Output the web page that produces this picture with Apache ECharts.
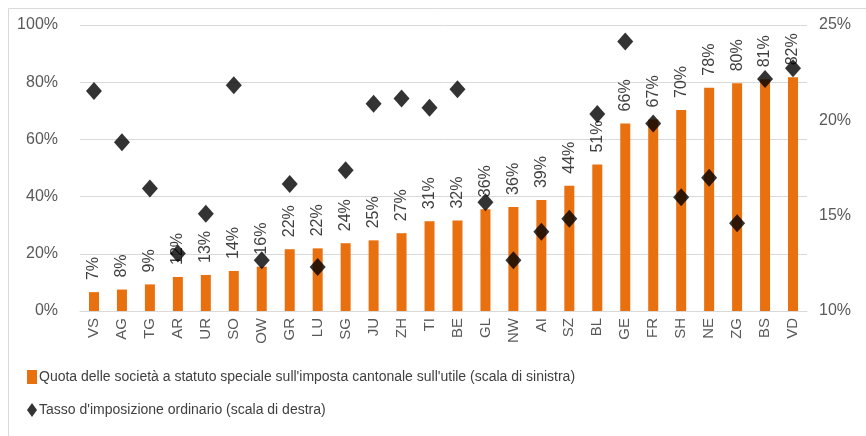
<!DOCTYPE html>
<html lang="it">
  <head>
    <meta charset="UTF-8" />
    <title>Statuti speciali</title>
    <script src="https://cdn.jsdelivr.net/npm/echarts@6/dist/echarts.min.js"></script>
  </head>
  <body style="margin: 0">
    <div id="main" style="width: 866px; height: 436px"></div>

    <script>
      const cantons = ["VS", "AG", "TG", "AR", "UR", "SO", "OW", "GR", "LU", "SG", "JU", "ZH", "TI",
        "BE", "GL", "NW", "AI", "SZ", "BL", "GE", "FR", "SH", "NE", "ZG", "BS", "VD"];
      // quota delle società a statuto speciale (scala di sinistra, %)
      const quotaSpeciale = [6.6, 7.5, 9.3, 11.9, 12.6, 14.0, 15.5, 21.6, 21.9, 23.7, 24.7, 27.2, 31.4,
        31.6, 35.6, 36.4, 38.8, 43.8, 51.2, 65.6, 67.0, 70.3, 78.1, 79.6, 81.0, 81.7];
      // tasso d'imposizione ordinario (scala di destra, %)
      const tassoOrdinario = [21.54, 18.85, 16.42, 13.02, 15.1, 21.84, 12.66, 16.66, 12.31, 17.38, 20.87, 21.14, 20.66,
        21.63, 15.7, 12.66, 14.16, 14.84, 20.33, 24.14, 19.84, 15.96, 16.99, 14.6, 22.17, 22.73];

      const font = "'Liberation Sans', sans-serif";
      const chart = echarts.init(document.getElementById("main"));

      chart.setOption({
        textStyle: { fontFamily: font },
        graphic: [
          {
            type: "rect",
            shape: { x: 8.5, y: 8.5, width: 880, height: 440 },
            style: { fill: "none", stroke: "#d9d9d9", lineWidth: 1 },
          },
        ],
        grid: { left: 80, right: 59, top: 25, bottom: 125 },
        legend: {
          orient: "vertical",
          left: 22,
          top: 365,
          itemWidth: 10,
          itemHeight: 14,
          itemGap: 19,
          textStyle: { fontFamily: font, fontSize: 14, color: "#404040", padding: [0, 0, 0, -3] },
          data: [
            { name: "Quota delle società a statuto speciale sull'imposta cantonale sull'utile (scala di sinistra)", icon: "rect" },
            { name: "Tasso d'imposizione ordinario (scala di destra)", icon: "diamond" },
          ],
        },
        xAxis: {
          type: "category",
          data: cantons,
          axisLine: { lineStyle: { color: "#d9d9d9" } },
          axisTick: { show: false },
          axisLabel: { rotate: 90, fontSize: 15, color: "#595959", margin: 7, fontFamily: font },
        },
        yAxis: [
          {
            type: "value",
            min: 0,
            max: 100,
            interval: 20,
            axisLabel: { formatter: "{value}%", fontSize: 16, color: "#595959", margin: 22, fontFamily: font },
            splitLine: { lineStyle: { color: "#d9d9d9" } },
          },
          {
            type: "value",
            min: 10,
            max: 25,
            interval: 5,
            axisLabel: { formatter: "{value}%", fontSize: 16, color: "#595959", margin: 12, fontFamily: font },
            splitLine: { show: false },
          },
        ],
        series: [
          {
            name: "Quota delle società a statuto speciale sull'imposta cantonale sull'utile (scala di sinistra)",
            type: "bar",
            data: quotaSpeciale,
            barWidth: 10,
            itemStyle: { color: "#E8700E" },
            label: {
              show: true,
              position: "top",
              rotate: 90,
              align: "left",
              verticalAlign: "middle",
              distance: 12,
              fontSize: 16,
              color: "#404040",
              fontFamily: font,
              formatter: (p) => Math.round(p.value) + "%",
            },
          },
          {
            name: "Tasso d'imposizione ordinario (scala di destra)",
            type: "scatter",
            yAxisIndex: 1,
            data: tassoOrdinario,
            symbol: "diamond",
            symbolSize: [16, 18],
            itemStyle: { color: "#000000" },
          },
        ],
      });
    </script>
  </body>
</html>
